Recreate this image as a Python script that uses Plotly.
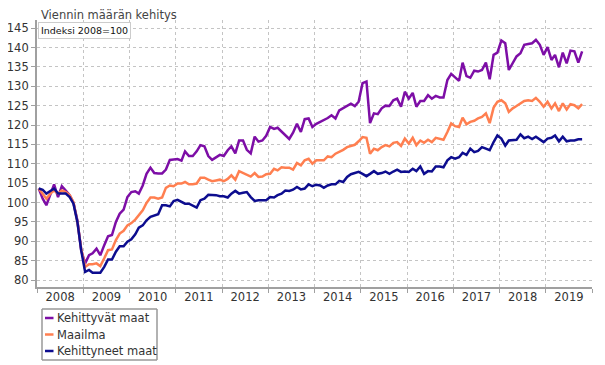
import plotly.graph_objects as go

# ---- data (monthly index, 2008=100), Jan 2008 .. Oct 2019 ----
years = list(range(2008, 2020))
months = [f"{y}-{m:02d}-15" for y in years for m in range(1, 13)][:142]

kehittyvat = [
    103.6, 101.0, 99.3, 101.9, 104.7, 101.4, 104.2, 103.1, 101.9, 99.9, 95.4, 87.7,
    84.3, 86.4, 86.9, 88.1, 86.4, 89.0, 91.3, 91.6, 95.0, 97.1, 98.2, 101.4,
    102.7, 102.9, 102.3, 104.4, 107.4, 109.0, 107.6, 107.5, 107.5, 108.5, 111.0, 111.1,
    111.2, 110.8, 113.2, 112.0, 112.0, 113.2, 114.8, 114.5, 112.0, 111.0, 111.6, 112.3,
    112.0, 113.5, 114.5, 112.7, 116.0, 116.0, 113.6, 112.7, 117.0, 115.7, 116.0, 117.2,
    119.5, 119.0, 119.3, 118.3, 117.3, 116.4, 118.0, 120.3, 118.2, 121.5, 121.7, 119.5,
    120.3, 120.8, 121.3, 121.8, 122.5, 121.7, 123.8, 124.3, 125.0, 125.5, 124.9, 126.0,
    130.8, 131.2, 120.5, 123.0, 122.8, 124.3, 125.0, 124.9, 126.4, 126.8, 124.7, 128.6,
    126.8, 128.3, 124.7, 126.2, 126.2, 127.7, 126.8, 127.5, 127.1, 127.1, 131.6, 133.2,
    132.3, 131.4, 136.1, 132.6, 132.2, 134.0, 133.8, 134.2, 136.1, 131.8, 138.1, 138.7,
    141.8, 141.1, 134.2, 135.9, 137.7, 138.5, 140.7, 140.9, 141.1, 142.0, 140.7, 138.1,
    140.1, 136.8, 138.1, 134.9, 138.7, 135.9, 139.2, 139.0, 136.1, 139.0,
]
maailma = [
    103.6, 102.3, 101.0, 102.3, 103.1, 102.3, 103.1, 102.7, 101.9, 100.1, 95.0, 88.1,
    83.4, 84.1, 84.1, 84.3, 83.6, 85.6, 87.7, 87.9, 90.3, 92.0, 92.7, 94.1,
    94.7, 95.6, 96.7, 98.0, 99.9, 101.3, 101.3, 101.0, 101.3, 103.8, 104.4, 104.2,
    104.9, 104.9, 105.3, 104.7, 104.7, 104.9, 106.4, 106.4, 105.9, 105.5, 105.7, 105.9,
    105.5, 106.1, 107.0, 105.9, 108.1, 107.6, 107.0, 106.7, 107.6, 106.6, 106.7, 107.3,
    107.4, 108.7, 108.3, 109.1, 109.0, 109.0, 108.5, 110.2, 109.6, 110.9, 111.3, 110.0,
    110.9, 110.9, 110.9, 111.9, 111.7, 112.6, 113.0, 113.6, 114.3, 114.5, 114.9, 115.8,
    116.9, 116.7, 112.6, 113.9, 113.5, 114.3, 114.8, 114.5, 115.4, 115.6, 114.6, 116.5,
    115.2, 116.7, 114.8, 116.0, 115.4, 116.2, 115.6, 116.7, 116.5, 116.2, 118.2, 120.4,
    119.7, 119.5, 121.9, 120.2, 120.8, 121.1, 121.7, 122.1, 123.0, 120.5, 124.5, 126.0,
    126.4, 125.6, 123.4, 124.3, 124.9, 125.6, 126.2, 126.4, 126.2, 127.0, 126.0, 124.7,
    126.0, 124.3, 125.6, 123.6, 125.6, 124.0, 125.4, 125.1, 124.3, 125.4,
]
kehittyneet = [
    103.6, 103.3, 102.3, 103.0, 103.6, 102.3, 102.3, 102.3, 101.4, 99.7, 95.0, 87.7,
    82.1, 82.6, 81.9, 81.9, 81.9, 83.4, 85.3, 85.3, 87.3, 88.7, 88.7, 89.9,
    90.5, 91.8, 93.5, 94.1, 95.4, 96.3, 96.7, 97.0, 99.3, 99.3, 99.0, 100.4,
    100.7, 100.1, 99.7, 99.7, 99.3, 98.7, 100.6, 101.0, 102.0, 102.0, 101.9, 101.6,
    101.6, 101.3, 102.3, 103.0, 102.3, 102.5, 102.7, 101.4, 100.4, 100.6, 100.6, 100.6,
    101.4, 101.3, 101.9, 102.3, 103.1, 103.0, 103.3, 104.0, 103.4, 103.6, 104.7, 104.2,
    104.6, 104.4, 103.8, 104.4, 104.7, 104.7, 105.6, 105.3, 106.6, 107.3, 107.6, 107.9,
    107.4, 106.8, 107.4, 108.1, 107.4, 107.6, 108.0, 107.4, 108.0, 108.5, 107.9, 108.0,
    107.9, 108.7, 108.1, 109.3, 107.4, 108.1, 108.0, 109.3, 109.3, 109.1, 110.9, 111.7,
    111.3, 111.7, 112.8, 112.3, 113.9, 113.0, 113.3, 114.3, 113.9, 113.5, 115.6, 117.3,
    116.5, 114.7, 116.0, 116.2, 116.2, 117.6, 116.6, 117.0, 116.4, 117.0, 116.2, 115.6,
    116.5, 116.7, 117.3, 115.8, 117.0, 115.8, 116.0, 116.0, 116.3, 116.3,
]

series_names = ["Kehittyvät maat", "Maailma", "Kehittyneet maat"]
series_values = [kehittyvat, maailma, kehittyneet]
colors = ["#7d0ea6", "#ff7f50", "#0d0d8f"]
title_text = "Viennin määrän kehitys"
note_text = "Indeksi 2008=100"

FONT = "DejaVu Sans"
# the page body has an 8px margin; work in screen coordinates and compensate
OFF = 8
W, H = 605 - OFF, 365 - OFF
PL, PT, PR, PB = 37, 20, 592, 287          # plot area in screen pixels
L, T = PL - OFF, PT - OFF
R, B = (OFF + W) - PR, (OFF + H) - PB
pw, ph = PR - PL, PB - PT


def px(x):
    return (x - PL) / pw


def py(y):
    return (PB - y) / ph


fig = go.Figure()
for name, vals, c in zip(series_names, series_values, colors):
    fig.add_trace(go.Scatter(x=months, y=vals, name=name, mode="lines",
                             line=dict(color=c, width=2.5), showlegend=False))

fig.update_layout(
    width=W, height=H,
    margin=dict(l=L, r=R, t=T, b=B, autoexpand=False),
    paper_bgcolor="white", plot_bgcolor="white",
    font=dict(family=FONT, size=11.5, color="#333333"),
    showlegend=False,
)
fig.update_xaxes(
    type="date", range=["2008-01-01", "2020-01-01"],
    dtick="M12", tick0="2008-01-01", tickformat="%Y", ticklabelmode="period",
    showgrid=True, gridcolor="#c4c4c4", griddash="dot", gridwidth=1,
    showline=True, linecolor="#a0a0a0", linewidth=2,
    ticks="outside", ticklen=4, tickcolor="#a0a0a0",
    ticklabelstandoff=-6,
    tickfont=dict(family=FONT, size=11.5, color="#333333"),
    automargin=False,
)
fig.update_yaxes(
    range=[78.2, 147.1], tick0=80, dtick=5,
    showgrid=True, gridcolor="#c4c4c4", griddash="dot", gridwidth=1,
    showline=True, linecolor="#a0a0a0", linewidth=2,
    ticks="outside", ticklen=4, tickcolor="#a0a0a0",
    tickfont=dict(family=FONT, size=11.5, color="#333333"),
    zeroline=False, automargin=False,
)

# title
fig.add_annotation(xref="paper", yref="paper", x=px(39), y=py(15),
                   xanchor="left", yanchor="middle", text=title_text, showarrow=False,
                   font=dict(family=FONT, size=11.5, color="#444444"))

# note box
fig.add_annotation(xref="paper", yref="paper", x=px(38), y=py(22),
                   xanchor="left", yanchor="top", text=note_text, showarrow=False,
                   font=dict(family=FONT, size=9.5, color="#111111"),
                   bgcolor="white", bordercolor="#cccccc", borderwidth=1, borderpad=2)

# custom legend below the plot: frame drawn as four line segments
bx0, bx1, by0, by1 = 42, 157, 309, 360
frame = [(bx0, by0, bx1, by0), (bx1, by0, bx1, by1),
         (bx1, by1, bx0, by1), (bx0, by1, bx0, by0)]
for (a, b, c_, d) in frame:
    fig.add_shape(type="line", xref="paper", yref="paper",
                  x0=px(a), y0=py(b), x1=px(c_), y1=py(d),
                  line=dict(color="#999999", width=1.5))
rows = [318, 334.5, 351]
for name, c, ry_ in zip(series_names, colors, rows):
    fig.add_shape(type="line", xref="paper", yref="paper",
                  x0=px(45), x1=px(53.5), y0=py(ry_), y1=py(ry_),
                  line=dict(color=c, width=2.5))
    fig.add_annotation(xref="paper", yref="paper", x=px(54.5), y=py(ry_),
                       xanchor="left", yanchor="middle", text=name, showarrow=False,
                       font=dict(family=FONT, size=11.5, color="#333333"))

fig.write_html("out.html")
